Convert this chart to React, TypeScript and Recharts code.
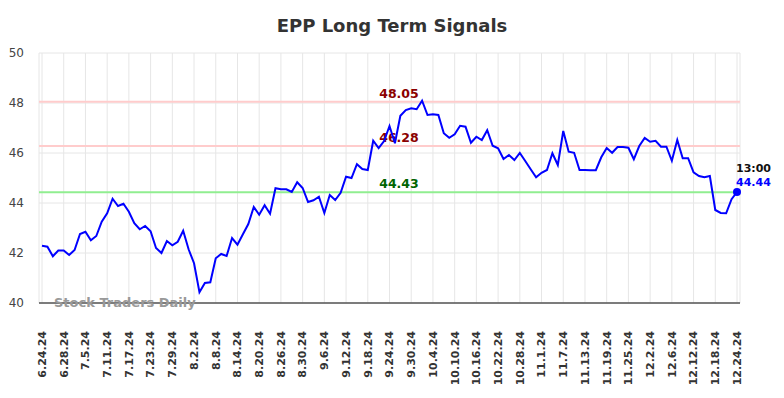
import React from 'react';
import { LineChart, Line, XAxis, YAxis, CartesianGrid, ReferenceLine } from 'recharts';

const tickLabels = [
    '6.24.24', '6.28.24', '7.5.24', '7.11.24', '7.17.24', '7.23.24', '7.29.24', '8.2.24',
    '8.8.24', '8.14.24', '8.20.24', '8.26.24', '8.30.24', '9.6.24', '9.12.24', '9.18.24',
    '9.24.24', '9.30.24', '10.4.24', '10.10.24', '10.16.24', '10.22.24', '10.28.24', '11.1.24',
    '11.7.24', '11.13.24', '11.19.24', '11.25.24', '12.2.24', '12.6.24', '12.12.24', '12.18.24',
    '12.24.24',
];

// one close per trading day, 6.24.24 .. 12.24.24
const closes = [
    42.29, 42.25, 41.87, 42.1, 42.1, 41.92, 42.12, 42.76, 42.85, 42.51,
    42.68, 43.25, 43.59, 44.17, 43.88, 43.97, 43.65, 43.19, 42.95, 43.08,
    42.87, 42.2, 42.0, 42.48, 42.31, 42.45, 42.89, 42.15, 41.59, 40.43,
    40.8, 40.83, 41.79, 41.96, 41.88, 42.6, 42.33, 42.75, 43.16, 43.84,
    43.53, 43.91, 43.57, 44.59, 44.55, 44.55, 44.44, 44.83, 44.6, 44.04,
    44.11, 44.25, 43.6, 44.32, 44.12, 44.41, 45.05, 45.0, 45.55, 45.36,
    45.32, 46.49, 46.2, 46.48, 47.08, 46.39, 47.49, 47.72, 47.79, 47.75,
    48.09, 47.52, 47.55, 47.52, 46.79, 46.61, 46.75, 47.09, 47.05, 46.41,
    46.65, 46.52, 46.91, 46.29, 46.19, 45.76, 45.92, 45.72, 46.0, 45.68,
    45.35, 45.03, 45.21, 45.32, 45.99, 45.52, 46.88, 46.05, 46.01, 45.32,
    45.32, 45.31, 45.31, 45.83, 46.2, 46.01, 46.24, 46.24, 46.21, 45.75,
    46.28, 46.6, 46.45, 46.49, 46.25, 46.25, 45.69, 46.52, 45.79, 45.79,
    45.23, 45.08, 45.03, 45.08, 43.72, 43.6, 43.59, 44.15, 44.44,
];

const yTicks = [40, 42, 44, 46, 48, 50];
const resistanceHigh = 48.05;
const resistanceMid = 46.28;
const support = 44.43;
const lastTime = '13:00';

const data = closes.map((v, i) => ({ i, v }));
const xTicks = tickLabels.map((_, k) => k * 4);
const lastIndex = closes.length - 1;

const FONT = '"DejaVu Sans", sans-serif';

const DateTick = (props: any) => {
    const { x, y, payload } = props;
    return (
        <text
            transform={`translate(${x},${y + 20}) rotate(-90)`}
            textAnchor="end"
            dy="0.35em"
            fontSize={11}
            fontWeight="bold"
            fill="#333"
            fontFamily={FONT}
        >
            {tickLabels[payload.value / 4]}
        </text>
    );
};

const lineLabel = (text: string, color: string) => (props: any) => {
    const { viewBox } = props;
    return (
        <text x={399} y={viewBox.y - 4} textAnchor="middle" fontSize={12.5} fontWeight="bold" fill={color} fontFamily={FONT}>
            {text}
        </text>
    );
};

const LastDot = (props: any) => {
    const { cx, cy, index } = props;
    if (index !== lastIndex) return <g key={`d-${index}`} />;
    return (
        <g key={`d-${index}`}>
            <circle cx={cx} cy={cy} r={4} fill="#0000ff" />
            <text x={cx - 1} y={cy - 20} fontSize={11} fontWeight="bold" fill="#111" fontFamily={FONT}>{lastTime}</text>
            <text x={cx - 1} y={cy - 6} fontSize={11} fontWeight="bold" fill="#0000ff" fontFamily={FONT}>{closes[lastIndex].toFixed(2)}</text>
        </g>
    );
};

export default function App() {
    return (
        <div style={{ position: 'relative', width: 784, height: 398, background: '#fff', fontFamily: FONT }}>
            <style>{'body{margin:0}'}</style>
            <LineChart width={784} height={398} data={data} margin={{ top: 53, right: 44, bottom: 0, left: 0 }}>
                <CartesianGrid stroke="#e6e6e6" strokeWidth={1} />
                <XAxis
                    dataKey="i"
                    type="number"
                    domain={[0, lastIndex]}
                    ticks={xTicks}
                    interval={0}
                    padding={{ left: 3, right: 3 }}
                    height={95}
                    tickLine={false}
                    axisLine={{ stroke: '#555', strokeWidth: 1.5 }}
                    tick={<DateTick />}
                />
                <YAxis
                    domain={[40, 50]}
                    ticks={yTicks}
                    width={39}
                    axisLine={false}
                    tickLine={false}
                    tickSize={0}
                    tickMargin={15}
                    tick={{ fontSize: 12, fill: '#444', fontFamily: FONT }}
                />
                <ReferenceLine y={resistanceHigh} stroke="#ffcccc" strokeWidth={2} label={lineLabel(resistanceHigh.toFixed(2), '#8b0000')} />
                <ReferenceLine y={resistanceMid} stroke="#ffcccc" strokeWidth={2} label={lineLabel(resistanceMid.toFixed(2), '#8b0000')} />
                <ReferenceLine y={support} stroke="#90ee90" strokeWidth={2} label={lineLabel(support.toFixed(2), '#006400')} />
                <Line
                    dataKey="v"
                    stroke="#0000ff"
                    strokeWidth={2}
                    dot={LastDot}
                    activeDot={false}
                    isAnimationActive={false}
                />
            </LineChart>
            <svg width={784} height={398} style={{ position: 'absolute', left: 0, top: 0, pointerEvents: 'none' }}>
                <text x={392} y={32} textAnchor="middle" fontSize={18} fontWeight="bold" fill="#333" fontFamily={FONT}>
                    EPP Long Term Signals
                </text>
                <text x={54} y={307} fontSize={13} fontWeight="bold" fill="#999" fontFamily={FONT}>
                    Stock Traders Daily
                </text>
            </svg>
        </div>
    );
}
